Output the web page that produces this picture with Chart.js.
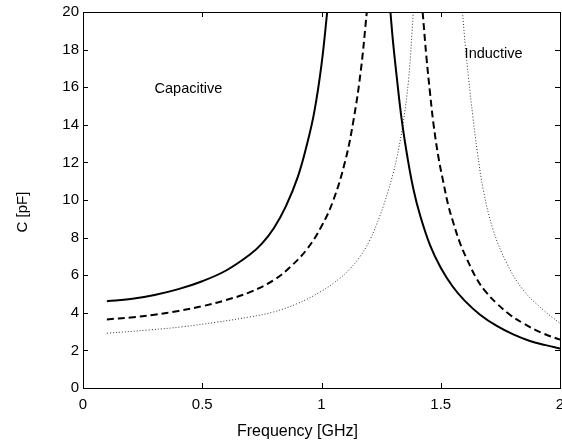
<!DOCTYPE html>
<html>
<head>
<meta charset="utf-8">
<script src="https://cdn.jsdelivr.net/npm/chart.js@4/dist/chart.umd.min.js"></script>
<style>
  body { margin: 0; background: #fff; }
  #wrap { width: 562px; height: 443px; }
</style>
</head>
<body>
<div id="wrap"><canvas id="cap" width="562" height="443"></canvas></div>
<script>
// readings: frequency [GHz] / capacitance [pF]
var solidLowF  = [0.1, 0.2, 0.3, 0.4, 0.5, 0.6, 0.7, 0.75, 0.8, 0.85, 0.9, 0.94, 0.97, 1.0, 1.024];
var solidLowC  = [4.62, 4.73, 4.95, 5.26, 5.68, 6.25, 7.1, 7.68, 8.5, 9.65, 11.2, 13.0, 14.7, 17.2, 20];
var solidHighF = [1.289, 1.30, 1.315, 1.336, 1.36, 1.385, 1.413, 1.455, 1.5, 1.55, 1.6, 1.665, 1.735, 1.804, 1.874, 1.94, 2.0];
var solidHighC = [20, 18.4, 16.6, 14.3, 12.3, 10.6, 9.2, 7.6, 6.4, 5.4, 4.65, 3.9, 3.3, 2.85, 2.5, 2.28, 2.1];

var dashLowF  = [0.1, 0.2, 0.3, 0.4, 0.5, 0.6, 0.7, 0.8, 0.87, 0.94, 1.0, 1.05, 1.1, 1.135, 1.165, 1.19];
var dashLowC  = [3.65, 3.75, 3.9, 4.1, 4.35, 4.68, 5.1, 5.74, 6.45, 7.4, 8.6, 10.0, 12.1, 14.3, 16.9, 20];
var dashHighF = [1.424, 1.44, 1.455, 1.47, 1.49, 1.51, 1.532, 1.555, 1.581, 1.61, 1.651, 1.69, 1.735, 1.79, 1.846, 1.92, 2.0];
var dashHighC = [20, 17.6, 15.7, 14.0, 12.3, 11.0, 9.7, 8.7, 7.7, 6.85, 5.8, 5.1, 4.5, 3.9, 3.44, 2.95, 2.57];

var dotLowF  = [0.1, 0.28, 0.42, 0.56, 0.7, 0.8, 0.9, 1.0, 1.078, 1.12, 1.161, 1.2, 1.231, 1.26, 1.28, 1.3, 1.315, 1.34, 1.365, 1.385];
var dotLowC  = [2.91, 3.09, 3.26, 3.5, 3.78, 4.05, 4.5, 5.15, 5.85, 6.35, 6.98, 7.8, 8.7, 9.7, 10.5, 11.4, 12.2, 13.9, 16.4, 20];
var dotHighF = [1.591, 1.603, 1.616, 1.635, 1.653, 1.679, 1.72, 1.777, 1.846, 1.93, 2.0];
var dotHighC = [20, 18.2, 16.56, 14.4, 12.6, 10.5, 8.4, 6.63, 5.21, 4.15, 3.44];

var xTicks = [0, 0.5, 1, 1.5, 2];
var yTicks = [0, 2, 4, 6, 8, 10, 12, 14, 16, 18, 20];

var FONT = '"Liberation Sans", Arial, Helvetica, sans-serif';

function pts(xs, ys) {
  var out = [];
  for (var i = 0; i < xs.length; i++) out.push({x: xs[i], y: ys[i]});
  return out;
}

function line(xs, ys, style) {
  var d = {
    data: pts(xs, ys),
    borderColor: '#000',
    borderWidth: 2,
    pointRadius: 0,
    fill: false,
    tension: 0.4
  };
  if (style == 'dash') d.borderDash = [7, 4];
  if (style == 'dot') { d.borderDash = [1, 2]; d.borderWidth = 1; d.borderColor = '#333'; }
  return d;
}

// box, inward ticks, axis titles, region labels
var decor = {
  id: 'decor',
  afterDraw: function(chart) {
    var c = chart.ctx, a = chart.chartArea;
    var sx = chart.scales.x, sy = chart.scales.y;
    c.save();
    c.strokeStyle = '#000';
    c.lineWidth = 1;
    c.strokeRect(a.left + 0.5, a.top + 0.5, a.right - a.left, a.bottom - a.top);
    c.beginPath();
    c.moveTo(a.left, a.bottom + 0.5); c.lineTo(a.right, a.bottom + 0.5);
    c.stroke();
    c.beginPath();
    xTicks.forEach(function(v) {
      var p = Math.round(sx.getPixelForValue(v)) + 0.5;
      c.moveTo(p, a.bottom); c.lineTo(p, a.bottom - 5);
      c.moveTo(p, a.top); c.lineTo(p, a.top + 5);
    });
    yTicks.forEach(function(v) {
      var p = Math.round(sy.getPixelForValue(v)) + 0.5;
      c.moveTo(a.left, p); c.lineTo(a.left + 5, p);
      c.moveTo(a.right, p); c.lineTo(a.right - 5, p);
    });
    c.stroke();

    c.fillStyle = '#000';
    c.font = '16px ' + FONT;
    c.textAlign = 'left';
    c.textBaseline = 'alphabetic';
    c.fillText('Frequency [GHz]', 237, 436);

    c.save();
    c.translate(23, 212);
    c.rotate(-Math.PI / 2);
    c.font = '15px ' + FONT;
    c.textAlign = 'center';
    c.textBaseline = 'middle';
    c.fillText('C [pF]', 0, 0);
    c.restore();

    c.font = '14.5px ' + FONT;
    c.fillText('Capacitive', sx.getPixelForValue(0.3), sy.getPixelForValue(15.7));
    c.fillText('Inductive', sx.getPixelForValue(1.6), sy.getPixelForValue(17.55));
    c.restore();
  }
};

var ctx = document.getElementById('cap').getContext('2d');
var chart = new Chart(ctx, {
  type: 'line',
  data: {
    datasets: [
      line(solidLowF, solidLowC, 'solid'),
      line(solidHighF, solidHighC, 'solid'),
      line(dashLowF, dashLowC, 'dash'),
      line(dashHighF, dashHighC, 'dash'),
      line(dotLowF, dotLowC, 'dot'),
      line(dotHighF, dotHighC, 'dot')
    ]
  },
  options: {
    responsive: false,
    animation: false,
    layout: { padding: { top: 12, right: 2, left: 0, bottom: 0 } },
    plugins: { legend: { display: false }, tooltip: { enabled: false } },
    scales: {
      x: {
        type: 'linear', min: 0, max: 2,
        afterBuildTicks: function(s) { s.ticks = xTicks.map(function(v) { return {value: v}; }); },
        afterFit: function(s) { s.height = 55; s.paddingLeft = 0; s.paddingRight = 0; },
        grid: { display: false, drawTicks: false },
        border: { display: false },
        ticks: {
          color: '#000', padding: 8, maxRotation: 0, font: { size: 15, family: FONT },
          callback: function(v) { return String(v); }
        }
      },
      y: {
        min: 0, max: 20,
        afterBuildTicks: function(s) { s.ticks = yTicks.map(function(v) { return {value: v}; }); },
        afterFit: function(s) { s.width = 83; s.paddingTop = 0; s.paddingBottom = 0; },
        grid: { display: false, drawTicks: false },
        border: { display: false },
        ticks: {
          color: '#000', padding: 4, font: { size: 15, family: FONT },
          callback: function(v) { return String(v); }
        }
      }
    }
  },
  plugins: [decor]
});
</script>
</body>
</html>
